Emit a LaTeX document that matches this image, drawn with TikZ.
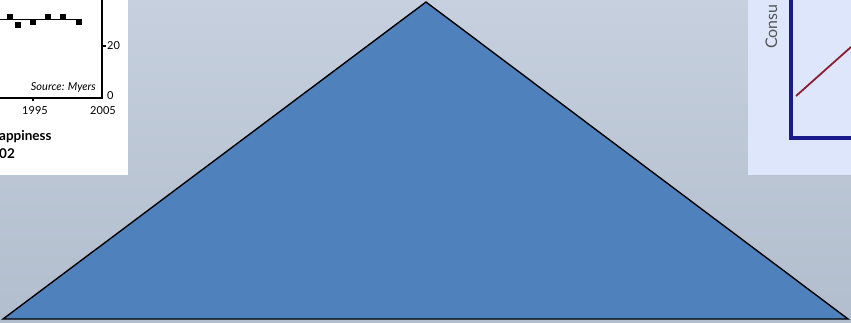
\documentclass[tikz,border=0pt]{standalone}
\usepackage{fontspec}
\setmainfont{Lato}
\usetikzlibrary{positioning}
\definecolor{bgTop}  {RGB}{198,208,222}
\definecolor{bgBot}  {RGB}{178,189,205}
\definecolor{triBlue}{RGB}{ 79,129,189}
\definecolor{panelL} {RGB}{221,230,250}
\definecolor{axNavy} {RGB}{ 26, 26,140}
\definecolor{lnRed}  {RGB}{140, 30, 50}
\definecolor{lblGray}{RGB}{ 85, 85, 85}

\begin{document}
\begin{tikzpicture}[x=1pt,y=-1pt,
  every node/.style={inner sep=0pt,font=\fontsize{11}{13}\selectfont},
  tick/.style={font=\fontsize{11}{13}\selectfont},
  caption/.style={font=\fontsize{13.5}{16}\selectfont\bfseries,anchor=base west},
  marker/.style={fill=black,minimum size=6pt},
  chartline/.style={line width=1.3pt}
]
\useasboundingbox (0,0) rectangle (851,322);
% backdrop
\shade[top color=bgTop,bottom color=bgBot] (0,0) rectangle (851,322);
% left chart (cut off)
\fill[white] (0,0) rectangle (128,175);
\draw[chartline] (102,0) -- (102,98) -- (0,98);
\draw[chartline] (102,46) -- (106,46);
\draw[chartline] (33,98) -- (33,101);
\draw[line width=0.9pt] (0,19) -- (79,19);
\foreach \px/\py [count=\i] in {10/17,18/25,33/22,48/17,63/17,79/22}
  \node[marker] (m\i) at (\px,\py) {};
\node[tick,anchor=west] (t20) at (107,46) {20};
\node[tick,anchor=west] (t0)  at (107,96) {0};
\node[tick] (x1995) at (35,111) {1995};
\node[tick] (x2005) at (103,111) {2005};
\node[tick,anchor=east,font=\fontsize{11}{13}\selectfont\itshape] (src) at (96,87) {Source: Myers};
\node[caption] (cap1) at (-1,140) {appiness};
\node[caption] (cap2) at (-1,158) {02};
% right chart (cut off)
\fill[panelL] (748,0) rectangle (851,175);
\node[rotate=90,anchor=base west,text=lblGray,font=\fontsize{16}{18}\selectfont] (ylab) at (777,49) {Consu};
\draw[axNavy,line width=4pt] (791,0) -- (791,138) -- (851,138);
\draw[lnRed,line width=1.8pt] (796,96) -- (851,47);
% pyramid
\filldraw[fill=triBlue,draw=black,line width=1.4pt,line join=miter]
  (3,319) -- (426,2) -- (848,319) -- cycle;
\end{tikzpicture}
\end{document}
